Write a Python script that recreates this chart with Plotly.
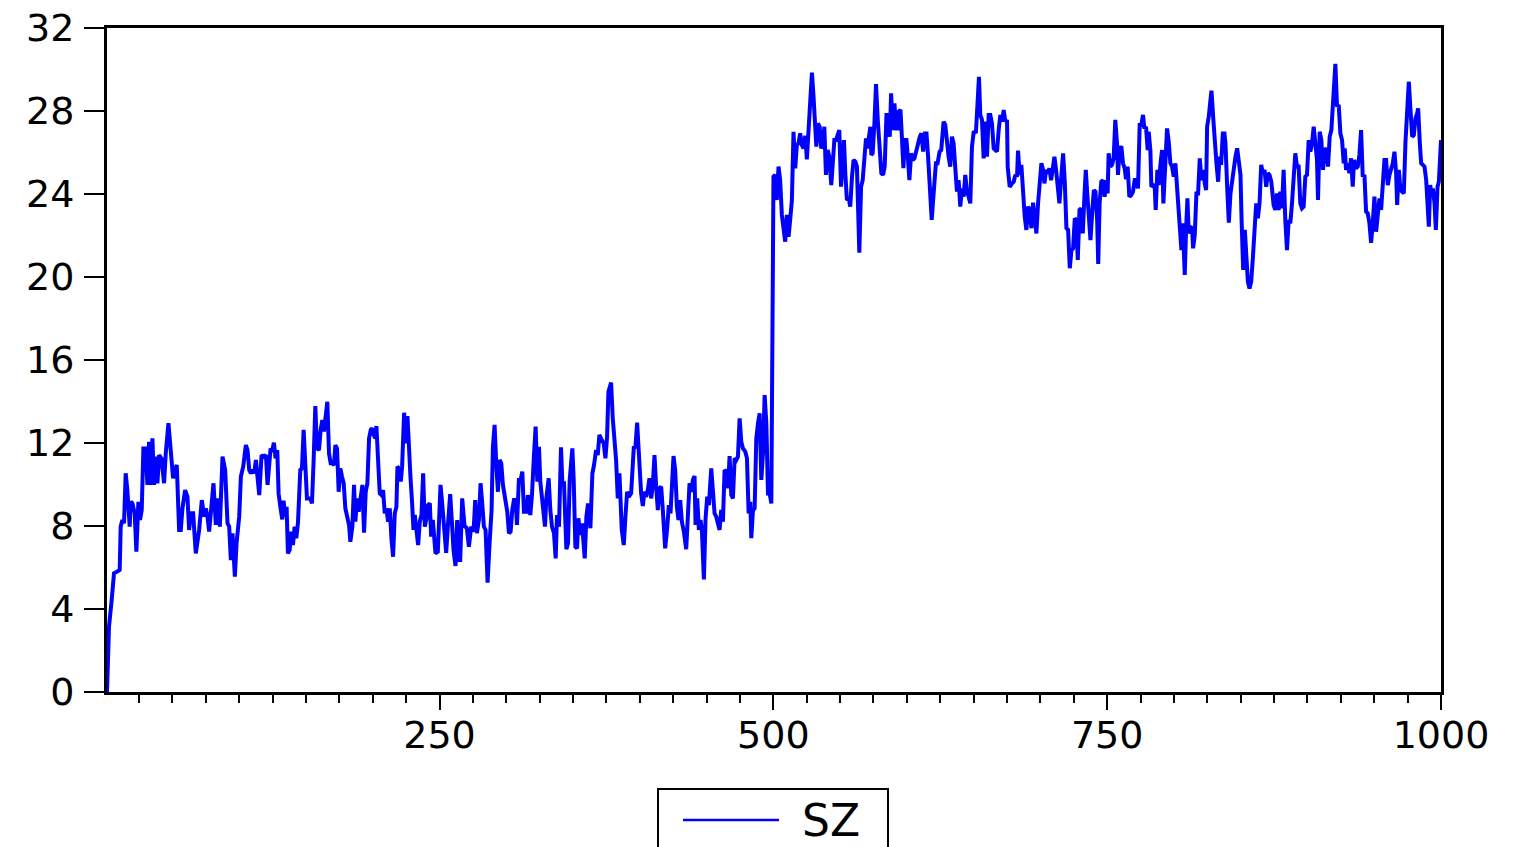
import plotly.graph_objects as go

obs = [
    1, 2.5, 4.5, 6.25, 8.75, 10.5, 11.25, 12.5, 13.75, 15, 16.25, 18, 18.75, 20, 21.75, 23, 24.5, 25.75, 27, 28.25,
    30, 31.25, 32.5, 33.75, 35, 36.25, 37.5, 38.75, 40, 41.75, 43.75, 45, 47, 48.75, 50.5, 52, 53.25, 55, 56.25, 57.5,
    59.5, 61.25, 62.5, 63.75, 65.5, 67.5, 70, 72, 73.75, 75, 76.25, 77.5, 79.25, 80.75, 82.5, 83.75, 85.5, 87.5, 89.5, 91.25,
    92.5, 93.75, 95, 96.75, 98, 100, 101.25, 103, 105, 106.25, 107.5, 108.75, 110, 111.25, 112.5, 113.75, 115, 116.75, 118.25, 120,
    121.25, 123.5, 124.5, 126, 127.25, 128.5, 129.5, 131, 132.25, 133.25, 134.5, 135.5, 136.5, 137.75, 139, 140.25, 141.5, 142.75, 144, 145.75,
    147, 148.25, 149.5, 150.75, 153.25, 154.5, 155.75, 157, 158.25, 159.75, 161, 162.25, 163.5, 164.75, 166, 167.25, 168.5, 169.75, 171, 172,
    173.25, 174.5, 175.75, 177, 178.25, 179.5, 181, 182.25, 183.25, 184.75, 186, 187, 188.25, 189.5, 190.75, 192.25, 193.5, 194.75, 196, 197.25,
    198.5, 199.5, 200.75, 202, 202.75, 204, 205.25, 206.5, 207.75, 209, 210.25, 211.5, 212.75, 214, 215.25, 216.5, 217.75, 218.5, 219.75, 221,
    222, 223.5, 224.75, 226, 227, 228.25, 229.5, 230.5, 231.5, 232.75, 234, 235.25, 236.5, 237.75, 239, 240.25, 241.5, 242.75, 243.75, 245,
    247, 248.75, 250.75, 252, 253.25, 255, 256.25, 258, 259.5, 260.5, 262, 263.25, 264.5, 265.5, 267, 268.75, 270.5, 272, 273.75, 275.5,
    276.75, 278, 279.5, 280.75, 282, 283.25, 284.5, 286, 287.5, 289, 290, 291.25, 292.5, 293.75, 295, 296.25, 297.5, 299.25, 300.75, 302,
    303.25, 304.5, 305.75, 307, 308, 309.5, 310.75, 312, 313.25, 315, 316.25, 318, 319.25, 320.75, 322, 323.25, 324.5, 325.5, 326.75, 328,
    329, 330, 331.75, 333, 334.25, 335.75, 337, 338, 339.5, 341, 342, 343.25, 345, 346.25, 347.5, 349.5, 350.5, 351.75, 353, 354,
    355.5, 356.75, 358.75, 360, 361.25, 363, 364.5, 365.75, 367.25, 368.5, 369.75, 371.5, 373, 374.25, 375.5, 376.5, 378.5, 379.75, 381, 382.25,
    383.5, 384.75, 386.5, 388, 389.25, 390.5, 391.75, 393.5, 395.5, 396.75, 398, 399.25, 401, 402.25, 403.5, 404.75, 406, 407.25, 408.5, 409.75,
    411, 412.25, 413.5, 414.75, 416, 417.25, 419, 420.5, 421.75, 423, 424, 425.25, 426.5, 427.75, 429, 430.25, 431.5, 433, 434.75, 436,
    437.25, 438.5, 439.75, 441, 441.75, 443, 444.25, 445.5, 446.5, 448, 449.25, 450.5, 451.75, 453.5, 454.75, 456, 457.25, 458.5, 459.75, 461,
    462.25, 463.5, 464.75, 466, 467.25, 468.5, 469.75, 471, 472.25, 473.5, 474.75, 476, 477.25, 479, 480.25, 481.5, 482.75, 483.5, 484.75, 486,
    487.25, 488.5, 489.75, 491, 492.25, 493.5, 494.75, 496, 497.25, 498.5, 500.1, 501.4, 502.6, 503.9, 505.1, 506.4, 507.6, 508.9, 510.1, 511.4,
    512.6, 513.9, 515.1, 516.4, 517.6, 518.9, 520.1, 521.4, 522.6, 523.9, 525.1, 526.4, 527.6, 528.9, 530.1, 531.4, 532.2, 533.4, 534.7, 535.9,
    537.2, 538.2, 539.4, 540.7, 541.9, 543.4, 544.4, 545.7, 546.9, 548.2, 549.4, 550.7, 551.9, 552.9, 553.9, 555.1, 556.4, 557.6, 558.9, 560.1,
    561.4, 562.6, 564.4, 565.7, 566.9, 568.2, 569.4, 570.4, 571.4, 572.7, 573.4, 574.4, 575.7, 576.9, 578.2, 579.4, 580.9, 582.2, 583.4, 584.7,
    585.9, 587.2, 588.2, 589.4, 590.7, 591.9, 593.2, 593.9, 595.2, 596.4, 597.4, 598.4, 599.7, 600.9, 601.9, 603.2, 604.4, 605.7, 606.9, 608.4,
    609.7, 610.9, 612.2, 613.4, 614.7, 615.9, 617.2, 618.6, 620.5, 621.75, 623, 624.5, 625.75, 627.5, 628.75, 630, 631.25, 632.5, 633.75, 635,
    636.25, 637.5, 638.75, 640, 641.25, 642.5, 643.75, 645, 646.25, 647.5, 648.75, 650, 651.75, 653, 654, 655, 656.25, 657.5, 658.75, 660,
    661.25, 662.5, 663.75, 665, 666.25, 667.5, 668.75, 670, 671.25, 672.5, 673.75, 675, 675.5, 677, 678.75, 680, 681.25, 682.5, 683.25, 684.5,
    685.75, 687, 688.25, 689.5, 690.75, 692, 693.25, 694.5, 695.75, 697, 698.25, 699.5, 700.75, 702, 703, 704.25, 705.5, 706.75, 708, 709.5,
    710.5, 711.75, 713, 714.25, 715.75, 717, 718.25, 719.5, 720.75, 722, 723.25, 724.5, 725.75, 726.75, 728, 729.25, 730.5, 731.75, 733, 734,
    735, 736.25, 737.5, 738.75, 740, 741.25, 742.5, 743.3, 744.35, 745.6, 746.85, 748.1, 749.35, 750.35, 751.1, 752.35, 753.6, 754.85, 756.1, 757.35,
    758.1, 759.35, 760.6, 761.85, 763.1, 764.1, 765.35, 766.6, 768.1, 769.35, 770.6, 771.85, 773.1, 774.35, 775.6, 776.85, 777.85, 779.1, 780.35, 781.1,
    782.35, 783.1, 784.35, 785.6, 786.35, 787.6, 788.6, 789.85, 791.1, 792.1, 793.6, 794.85, 796.1, 797.35, 798.6, 799.85, 801.1, 802.35, 803.6, 804.85,
    805.6, 806.6, 807.35, 808.1, 809.1, 810.1, 811.1, 812.35, 813.6, 814.35, 815.6, 816.85, 818.1, 819.35, 820.6, 821.85, 823.1, 824.1, 824.85, 826.1,
    827.35, 828.1, 829.35, 830.6, 831.85, 833.1, 834.1, 835.35, 836.6, 837.85, 838.6, 839.85, 841.1, 842.35, 843.6, 844.85, 846.1, 847.35, 848.6, 849.85,
    850.6, 851.85, 853.1, 854.1, 855.35, 856.6, 857.85, 859.1, 860.35, 861.6, 862.85, 864.1, 865.35, 866.6, 867.85, 869.1, 870.35, 871.6, 872.9, 874.65,
    875.9, 877.15, 878.4, 879.65, 880.9, 882.15, 883.4, 884.65, 885.9, 887.15, 888.4, 889.65, 890.9, 892.15, 893.4, 894.65, 895.9, 897.15, 898.4, 899.65,
    900.9, 902.15, 903.4, 904.65, 905.9, 907.15, 907.9, 909.15, 910.4, 911.65, 912.9, 914.15, 915.4, 916.65, 917.9, 919.15, 920.9, 922.15, 923.4, 924.65,
    925.9, 927.15, 927.9, 928.9, 930.15, 931.4, 932.65, 933.9, 934.9, 936.4, 937.65, 938.9, 940.15, 941.4, 942.65, 943.9, 945.15, 946.4, 947.65, 948.9,
    950.15, 951.4, 952.65, 953.9, 955.15, 956.4, 957.65, 958.9, 960.15, 961.4, 962.65, 963.9, 965.15, 966.4, 967.15, 968.4, 969.65, 970.9, 972.15, 973.4,
    974.65, 975.9, 977.15, 978.4, 979.65, 980.9, 982.15, 982.9, 984.15, 985.15, 986.4, 987.65, 988.9, 989.9, 990.9, 991.9, 992.9, 993.9, 995.15, 996.15,
    997.4, 998.4, 1000,
]
sz = [
    0.0, 3.15, 4.43, 5.72, 5.8, 5.88, 7.97, 8.29, 8.13, 10.54, 9.73, 7.97, 9.17, 9.09, 8.61, 6.76, 9.17, 8.29, 8.77, 11.74,
    11.74, 9.98, 12.06, 9.98, 12.22, 9.98, 11.34, 10.06, 11.42, 11.26, 10.06, 11.5, 12.95, 11.42, 10.3, 10.7, 10.94, 7.81, 7.81, 8.85,
    9.73, 9.41, 7.81, 8.61, 8.61, 6.68, 7.81, 9.25, 8.45, 8.85, 8.45, 7.73, 9.25, 10.06, 8.05, 9.33, 7.97, 11.34, 10.7, 8.13,
    7.97, 6.36, 7.65, 5.56, 7.16, 8.45, 10.38, 10.86, 11.9, 11.66, 10.7, 10.54, 10.7, 10.54, 11.18, 10.38, 9.49, 11.42, 11.34, 11.42,
    9.98, 11.74, 11.58, 12.02, 11.26, 11.66, 9.57, 8.85, 8.32, 9.22, 8.45, 8.93, 6.68, 6.84, 7.73, 7.08, 7.97, 7.41, 8.13, 10.7,
    10.78, 12.63, 11.1, 9.33, 9.33, 9.09, 11.18, 13.78, 11.74, 11.66, 12.63, 13.11, 12.55, 13.35, 13.99, 11.5, 11.02, 11.02, 10.94, 11.9,
    11.74, 9.65, 10.78, 10.38, 10.06, 8.85, 8.29, 8.05, 7.24, 7.97, 9.98, 8.21, 9.33, 8.69, 9.25, 9.98, 7.68, 9.65, 10.06, 12.22,
    12.63, 12.71, 12.39, 12.22, 12.82, 11.02, 9.57, 9.49, 9.73, 8.61, 8.85, 8.21, 8.85, 7.41, 6.52, 8.61, 8.93, 10.86, 10.78, 10.14,
    10.86, 13.46, 11.98, 13.3, 11.5, 10.38, 9.09, 7.81, 8.53, 7.81, 7.08, 8.21, 8.53, 10.54, 7.97, 8.37, 9.01, 9.09, 7.49, 8.29,
    6.68, 6.76, 9.98, 9.09, 8.13, 6.71, 7.97, 9.54, 7.97, 6.84, 6.07, 8.29, 6.36, 6.36, 9.33, 8.0, 7.89, 7.0, 7.97, 7.73,
    9.25, 7.65, 8.29, 10.06, 9.09, 7.97, 7.81, 5.27, 7.16, 8.77, 11.82, 12.87, 11.02, 9.65, 11.18, 11.02, 9.98, 9.09, 8.69, 7.65,
    7.73, 8.77, 9.25, 9.25, 8.05, 10.3, 10.22, 10.62, 8.69, 8.69, 9.49, 8.53, 9.49, 11.42, 12.79, 10.14, 11.82, 10.14, 9.41, 8.77,
    7.97, 9.33, 10.3, 8.77, 7.97, 7.65, 6.44, 8.53, 7.97, 11.79, 10.06, 10.06, 6.88, 7.16, 10.22, 11.74, 10.22, 7.0, 6.92, 8.37,
    7.57, 8.13, 6.44, 8.45, 9.09, 7.89, 10.54, 10.94, 11.66, 11.42, 12.39, 12.14, 11.98, 11.26, 12.3, 14.47, 14.91, 13.19, 12.06, 11.18,
    9.33, 10.54, 7.81, 7.08, 8.45, 9.65, 9.41, 9.57, 11.79, 11.82, 12.98, 11.5, 9.57, 8.96, 9.65, 9.41, 9.73, 10.3, 9.33, 9.98,
    11.42, 9.9, 8.77, 9.82, 9.9, 8.77, 6.92, 7.89, 9.01, 8.61, 10.22, 11.37, 10.7, 8.93, 8.29, 9.25, 8.21, 7.73, 6.88, 9.09,
    10.06, 9.65, 10.22, 10.41, 8.05, 9.33, 7.81, 8.29, 7.81, 5.43, 8.37, 9.41, 9.01, 10.78, 9.73, 8.61, 8.45, 8.05, 7.81, 8.77,
    8.21, 10.7, 10.62, 9.82, 11.37, 9.49, 9.33, 11.26, 11.18, 11.34, 13.19, 12.06, 11.74, 11.58, 11.26, 8.61, 9.17, 7.41, 8.77, 8.85,
    12.22, 12.95, 13.43, 10.22, 11.5, 14.31, 12.95, 9.57, 9.57, 9.09, 24.84, 24.92, 23.71, 25.32, 24.67, 22.99, 22.43, 21.7, 22.99, 21.94,
    22.75, 23.71, 27.0, 25.24, 26.36, 26.44, 26.92, 26.36, 26.2, 26.8, 25.67, 26.92, 28.21, 29.85, 28.69, 27.57, 26.28, 27.4, 27.24, 26.2,
    26.36, 27.24, 24.92, 26.12, 25.8, 24.43, 25.32, 26.6, 26.6, 26.92, 27.08, 24.35, 25.32, 26.6, 25.0, 23.71, 23.79, 23.39, 24.84, 25.64,
    25.56, 25.32, 21.17, 24.35, 24.67, 25.64, 26.68, 26.2, 26.6, 27.24, 25.88, 25.96, 27.4, 29.3, 27.57, 26.12, 25.0, 24.92, 25.32, 27.81,
    27.81, 26.76, 28.85, 27.08, 28.37, 27.16, 27.16, 27.97, 28.05, 26.6, 25.24, 26.6, 26.6, 25.64, 24.67, 25.96, 25.64, 25.72, 26.04, 26.6,
    26.76, 26.92, 26.04, 26.92, 26.92, 25.8, 24.35, 22.75, 24.43, 25.48, 25.48, 26.04, 26.12, 27.49, 27.33, 26.36, 25.8, 25.32, 26.76, 26.44,
    25.16, 24.11, 24.67, 23.39, 24.27, 23.87, 24.92, 24.11, 23.87, 23.55, 26.28, 26.96, 27.0, 28.45, 29.65, 27.81, 27.57, 25.72, 27.49, 25.8,
    27.81, 27.81, 27.4, 26.2, 26.12, 26.04, 27.08, 27.81, 27.49, 28.05, 27.49, 27.57, 25.32, 24.35, 24.51, 24.59, 24.92, 24.84, 26.09, 24.92,
    25.4, 23.87, 22.91, 22.27, 23.39, 23.23, 22.35, 23.58, 22.59, 22.1, 23.55, 24.51, 25.48, 25.16, 24.51, 25.16, 25.0, 25.24, 24.67, 25.32,
    25.8, 25.16, 24.27, 23.55, 24.92, 25.96, 24.59, 22.35, 22.27, 20.42, 21.3, 21.38, 22.83, 22.75, 20.82, 23.23, 23.31, 22.1, 23.95, 25.16,
    24.11, 22.75, 21.78, 23.07, 24.19, 24.11, 22.75, 20.63, 23.55, 24.59, 24.67, 23.87, 24.67, 24.03, 25.96, 25.32, 25.4, 25.72, 27.57, 26.44,
    24.92, 26.12, 26.31, 25.48, 25.24, 24.71, 25.32, 23.87, 23.95, 24.11, 24.67, 24.67, 24.27, 27.33, 27.33, 27.81, 27.16, 27.24, 26.12, 27.0,
    26.12, 24.35, 24.43, 24.35, 23.23, 25.16, 24.43, 25.4, 26.12, 23.55, 25.32, 27.16, 26.52, 25.48, 25.32, 24.84, 25.48, 24.35, 23.15, 22.43,
    21.3, 22.59, 21.46, 20.1, 22.27, 23.79, 22.1, 22.43, 22.35, 21.38, 22.02, 24.03, 24.03, 25.72, 24.67, 25.16, 24.51, 24.19, 27.24, 27.73,
    28.53, 28.98, 27.73, 26.36, 25.48, 24.59, 25.8, 25.4, 26.92, 26.92, 26.44, 24.35, 22.62, 24.03, 24.67, 25.48, 25.8, 26.2, 25.64, 24.92,
    22.91, 20.34, 22.27, 20.66, 19.78, 19.45, 19.78, 20.9, 22.59, 23.55, 22.83, 23.55, 25.4, 25.0, 25.16, 24.35, 25.0, 24.92, 24.6, 23.47,
    23.23, 24.03, 23.23, 24.11, 23.31, 25.16, 22.75, 21.3, 22.75, 22.59, 23.55, 24.84, 25.96, 25.32, 25.32, 23.55, 23.31, 23.39, 24.84, 24.92,
    26.6, 26.04, 26.44, 27.24, 26.6, 25.64, 23.71, 27.0, 26.6, 25.16, 26.12, 26.2, 25.32, 26.76, 27.08, 28.53, 30.27, 28.21, 28.29, 26.92,
    26.6, 25.48, 26.2, 25.16, 25.48, 25.0, 25.72, 24.35, 25.64, 25.24, 25.32, 25.88, 27.08, 24.84, 24.92, 23.15, 23.07, 22.59, 21.65, 22.59,
    23.87, 22.18, 22.91, 23.79, 23.23, 24.59, 25.64, 25.64, 24.43, 24.92, 25.16, 25.48, 26.04, 25.0, 23.47, 25.16, 24.19, 24.11, 24.03, 26.52,
    28.05, 29.41, 28.05, 26.76, 26.84, 27.65, 27.89, 28.13, 26.44, 25.48, 25.4, 25.32, 24.67, 23.23, 22.43, 24.43, 24.03, 24.27, 23.55, 22.27,
    24.35, 24.59, 26.6,
]

series_name = "SZ"
y_ticks = [0, 4, 8, 12, 16, 20, 24, 28, 32]
x_ticks = [250, 500, 750, 1000]

font_family = "DejaVu Sans"
line_color = "#0000ff"

fig = go.Figure()
fig.add_trace(go.Scatter(
    x=obs, y=sz, mode="lines", name=series_name,
    line=dict(color=line_color, width=4),
    showlegend=False,
))

# legend box drawn below the plot (EViews style, cut by the bottom edge)
W, H = 1513, 847
L, R, T, B = 107, 72, 28, 155
pw, ph = W - L - R, H - T - B


def px(x):
    return (x - L) / pw


def py(y):
    return (H - B - y) / ph


shapes = [
    dict(type="rect", xref="paper", yref="paper",
         x0=px(658), x1=px(888), y0=py(789), y1=py(860),
         line=dict(color="black", width=2), fillcolor="white", layer="above"),
    dict(type="line", xref="paper", yref="paper",
         x0=px(683), x1=px(779), y0=py(820), y1=py(820),
         line=dict(color=line_color, width=2.5), layer="above"),
]
annotations = [
    dict(xref="paper", yref="paper", x=px(800), y=py(820),
         xanchor="left", yanchor="middle", showarrow=False,
         text=series_name, font=dict(family=font_family, size=44, color="black")),
]

fig.update_layout(
    width=W, height=H,
    margin=dict(l=L, r=R, t=T, b=B, pad=0, autoexpand=False),
    paper_bgcolor="white", plot_bgcolor="white",
    font=dict(family=font_family, size=38, color="black"),
    showlegend=False,
    shapes=shapes,
    annotations=annotations,
)

fig.update_xaxes(
    range=[1, 1000], tickmode="array", tickvals=x_ticks,
    ticks="outside", ticklen=15, tickwidth=2, tickcolor="black",
    minor=dict(dtick=25, tick0=0, ticks="outside", ticklen=8, tickwidth=2, tickcolor="black"),
    showgrid=False, zeroline=False, automargin=False,
    showline=True, linecolor="black", linewidth=3, mirror=True,
    ticklabelstandoff=-8,
)
fig.update_yaxes(
    range=[0, 32], tickmode="array", tickvals=y_ticks,
    ticks="outside", ticklen=20, tickwidth=2, tickcolor="black",
    showgrid=False, zeroline=False, automargin=False,
    showline=True, linecolor="black", linewidth=3, mirror=True,
    ticklabelstandoff=2,
)

fig.write_html("out.html")
